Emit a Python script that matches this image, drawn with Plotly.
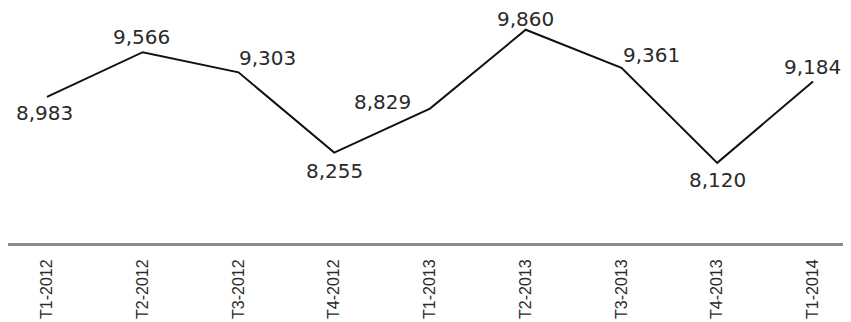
import plotly.graph_objects as go

quarters = ["T1-2012", "T2-2012", "T3-2012", "T4-2012", "T1-2013",
            "T2-2013", "T3-2013", "T4-2013", "T1-2014"]
values = [8983, 9566, 9303, 8255, 8829, 9860, 9361, 8120, 9184]

# pixel offsets of each value label from its point (style only)
LABEL_DX = [-2, -1, 29, 0, -47, 0, 30, 0, 0]
LABEL_DY = [-16, 15, 14, -18, 7, 11, 13, -17, 14]

xs = list(range(len(quarters)))
labels = [f"{v:,}" for v in values]

fig = go.Figure()
fig.add_trace(go.Scatter(
    x=xs,
    y=values,
    mode="lines",
    line=dict(color="#111111", width=2),
    hoverinfo="skip",
))

for x, v, t, dx, dy in zip(xs, values, labels, LABEL_DX, LABEL_DY):
    fig.add_annotation(
        x=x, y=v, text=t, showarrow=False,
        xanchor="center", yanchor="middle",
        xshift=dx, yshift=dy,
        font=dict(family="DejaVu Sans", size=20, color="#2a2a2a"),
    )

fig.update_layout(
    width=843, height=314,
    margin=dict(l=0, r=0, t=11, b=79, autoexpand=False),
    paper_bgcolor="white", plot_bgcolor="white",
    showlegend=False,
    xaxis=dict(
        range=[-0.407, 8.397],
        automargin=False,
        tickmode="array",
        tickvals=xs,
        ticktext=quarters,
        tickangle=-90,
        showgrid=False, zeroline=False,
        showline=True, linecolor="#8a8a8a", linewidth=3,
        ticks="", ticklabelstandoff=7,
        tickfont=dict(family="Liberation Sans", size=16, color="#2a2a2a"),
    ),
    yaxis=dict(
        range=[7073, 10000],
        automargin=False,
        visible=False,
        showgrid=False, zeroline=False,
    ),
)

fig.write_html("out.html")
